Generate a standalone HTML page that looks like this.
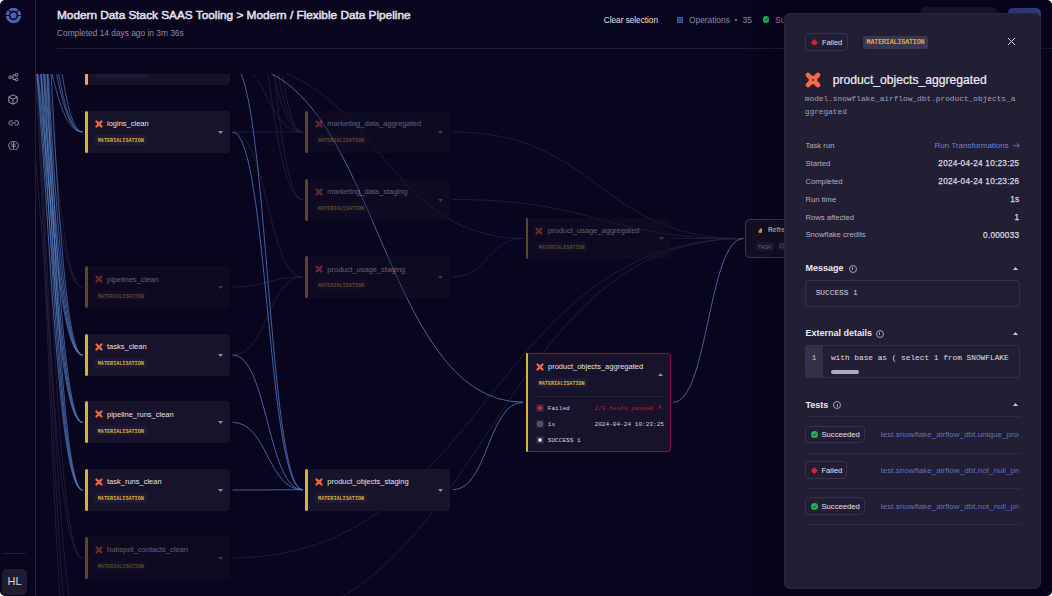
<!DOCTYPE html>
<html><head><meta charset="utf-8"><title>Pipeline</title>
<style>
html,body{margin:0;padding:0;background:#fff;width:1052px;height:596px;overflow:hidden}
#app{position:absolute;left:0;top:0;width:1052px;height:596px;background:#09051e;border-radius:5px;overflow:hidden;font-family:"Liberation Sans",Arial,sans-serif;color:#e6e4ee}
.abs{position:absolute}
#side{position:absolute;left:0;top:0;width:35px;height:596px;border-right:1px solid #221e33}
#graph{position:absolute;left:36px;top:74px;width:1016px;height:522px;overflow:hidden}
#gin{position:absolute;left:-36px;top:-74px;width:1052px;height:596px}
#edges{position:absolute;left:0;top:0}
.eb{fill:none;stroke:#5e91dc;stroke-width:.6}
.eb2{fill:none;stroke:#5a8ad8;stroke-width:.7}
.eg{fill:none;stroke:#29253f;stroke-width:.7}
.node{position:absolute;width:145px;height:41.7px;background:#17132a;border-radius:4px;box-sizing:border-box}
.node:before{content:"";position:absolute;left:0;top:0;bottom:0;width:2.5px;background:#ddb03b;border-radius:2px}
.node.faded{opacity:.38}
.node .ic{position:absolute;left:9.7px;top:9px}
.node.top .bdg{color:transparent}
.node .nm{position:absolute;left:22px;top:8.4px;font-size:7.5px;line-height:9px;color:#e4e2ec;white-space:nowrap}
.node .bdg{position:absolute;left:10px;top:24.3px;width:51.6px;height:9.7px;background:#1f1a33;border-radius:2px;font-family:"Liberation Mono",monospace;font-size:5.12px;line-height:13.4px;color:#ddb03b;text-align:center;font-weight:bold}
.node .cr{position:absolute;left:133px;top:19.5px}
#panel{position:absolute;left:784px;top:12.5px;width:256.5px;height:576.5px;background:#221e34;border-radius:6px;box-sizing:border-box;border:1px solid #29253d;box-shadow:0 0 28px 6px rgba(0,0,0,.3);overflow:hidden}

.t{position:absolute;white-space:nowrap}
.lbl{position:absolute;left:805.4px;font-size:7.7px;color:#b3afc2;white-space:nowrap}
.val{position:absolute;right:32.7px;font-size:8.2px;letter-spacing:.26px;-webkit-text-stroke:.25px #dcd9e4;color:#dcd9e4;white-space:nowrap;text-align:right}
.sec{position:absolute;left:805.4px;font-size:9px;font-weight:bold;color:#eceaf2;white-space:nowrap}
.info{position:absolute;width:6px;height:6px;border:1px solid #a7a3b6;border-radius:50%}
.info:after{content:"";position:absolute;left:2.5px;top:1.5px;width:1px;height:3px;background:#a7a3b6}
.up{position:absolute;left:1012.5px}
.sbadge{position:absolute;left:805.4px;height:17.5px;box-sizing:border-box;border:1px solid #38334d;border-radius:4px;font-size:7.7px;color:#e4e2ec}
.sbadge span{position:absolute;left:15px;top:3.5px;white-space:nowrap}
.gchk{position:absolute;left:4.8px;top:4.5px;width:7px;height:7px;border-radius:50%;background:#22b35a}
.rdia{position:absolute;left:5.2px;top:5.9px;width:4.7px;height:4.7px;background:#e3193d;transform:rotate(45deg);border-radius:1px}
.sep{position:absolute;left:805.4px;width:214.4px;height:1px;background:#2f2a44}
.lnk{position:absolute;left:880.5px;font-size:8.1px;color:#5c72c4;white-space:nowrap;width:138.6px;overflow:hidden}
</style></head><body><div id="app">
<div id="side"></div><svg class="abs" style="left:4.9px;top:6.699999999999999px" width="17" height="17" viewBox="-8.5 -8.5 17 17"><circle r="6.2" fill="none" stroke="#4d60b2" stroke-width="3.1"/><circle r="3.1" fill="#4d60b2"/><g stroke="#09051e" stroke-width="1.1"><line x1="-8.5" y1="0" x2="-4" y2="0"/><line x1="4" y1="0" x2="8.5" y2="0"/><line x1="-3" y1="-3.4" x2="-6.5" y2="-7.5"/><line x1="3" y1="-3.4" x2="6.5" y2="-7.5"/></g></svg><svg class="abs" style="left:7.5px;top:72.5px" width="11" height="9" viewBox="0 0 11 9" fill="none" stroke="#a9a5b8" stroke-width="0.85"><circle cx="2" cy="4.2" r="1.3"/><path d="M3.3 4.2 H5 M5 2 V6.5 M5 2 H7.4 M5 6.5 H7.4"/><rect x="7.4" y="0.8" width="2.4" height="2.4" rx="0.3"/><rect x="7.4" y="5.3" width="2.4" height="2.4" rx="0.3"/></svg><svg class="abs" style="left:8.4px;top:94.4px" width="10" height="11" viewBox="0 0 10 11" fill="none" stroke="#a9a5b8" stroke-width="0.9" stroke-linejoin="round"><path d="M5 0.8 L9.2 3 V8 L5 10.2 L0.8 8 V3 Z M0.8 3 L5 5.3 L9.2 3 M5 5.3 V10.2"/></svg><svg class="abs" style="left:7.6px;top:119.6px" width="11.5" height="6" viewBox="0 0 11.5 6" fill="none" stroke="#a9a5b8" stroke-width="0.85" stroke-linecap="round"><path d="M4.3 0.8 H3 A2.1 2.1 0 0 0 3 5 H4.3 M7.2 0.8 H8.5 A2.1 2.1 0 0 1 8.5 5 H7.2 M4 2.9 H7.5"/></svg><svg class="abs" style="left:7.6px;top:140.9px" width="11" height="9.5" viewBox="0 0 11 9.5" fill="none" stroke="#a9a5b8" stroke-width="0.85" stroke-linejoin="round"><path d="M3.2 0.9 Q5.5 0.1 7.8 0.9 Q9.6 1.6 10.2 3.6 Q10.5 4.75 10.2 5.9 Q9.6 7.9 7.8 8.6 Q5.5 9.4 3.2 8.6 Q1.4 7.9 0.8 5.9 Q0.5 4.75 0.8 3.6 Q1.4 1.6 3.2 0.9 Z"/><path d="M5.5 1.2 V8.3 M2.8 5.1 H8.2"/><path d="M3.3 3.2 Q4.2 2.4 4.6 3.6 M7.7 3.2 Q6.8 2.4 6.4 3.6" stroke-width="0.7"/></svg><div class="abs" style="left:2px;top:553px;width:23.5px;height:1px;background:#221e33"></div><div class="abs" style="left:2px;top:569.4px;width:25.3px;height:25.3px;border-radius:5px;background:#201c30;font-size:11px;line-height:25.3px;text-align:center;color:#d6d3e2">HL</div><div class="t" style="left:603.8px;top:15.6px;font-size:8.2px;color:#d6d3de;-webkit-text-stroke:.1px #d6d3de">Clear selection</div><svg class="abs" style="left:676.9px;top:16.9px" width="6" height="6" viewBox="0 0 6 6"><rect width="6" height="6" fill="#3b4ea5"/><path d="M1.2 1.2 H2.6 V2.6 H1.2 Z M3.4 1.2 H4.8 V2.6 H3.4 Z M1.2 3.4 H2.6 V4.8 H1.2 Z M3.4 3.4 H4.8 V4.8 H3.4 Z" fill="#2a3572"/></svg><div class="t" style="left:689px;top:15px;font-size:8.35px;color:#8f8ba2">Operations</div><div class="abs" style="left:734.8px;top:18.6px;width:2px;height:2px;border-radius:1px;background:#8f8ba2"></div><div class="t" style="left:742.6px;top:15px;font-size:8.35px;color:#8f8ba2">35</div><div class="abs" style="left:762.7px;top:16.4px;width:6.6px;height:6.6px;border-radius:50%;background:#22b35a"><svg width="6.6" height="6.6" viewBox="0 0 7 7" style="position:absolute;left:0;top:0"><path d="M2 3.6 L3.1 4.7 L5.1 2.5" stroke="#0b2a16" stroke-width="0.9" fill="none"/></svg></div><div class="t" style="left:775.1px;top:15px;font-size:8.35px;color:#8f8ba2">Succeeded</div><div class="abs" style="left:920.2px;top:6.9px;width:77px;height:22px;border-radius:5px;background:#1c1830"></div><div class="abs" style="left:1007.7px;top:7.9px;width:33px;height:22px;border-radius:5px;background:#34458c"></div>
<div class="abs" style="left:57px;top:7.8px;font-size:11.8px;white-space:nowrap;color:#e4e2ec;-webkit-text-stroke:.5px #e4e2ec">Modern Data Stack SAAS Tooling &gt; Modern / Flexible Data Pipeline</div>
<div class="abs" style="left:57px;top:28px;font-size:8.35px;white-space:nowrap;color:#8f8ba0">Completed 14 days ago in 3m 36s</div>
<div class="abs" style="left:57px;top:48px;width:995px;height:1px;background:#1f1b30"></div>
<div id="graph"><div id="gin">
<svg id="edges" width="1052" height="596" viewBox="0 0 1052 596"><path d="M12.2,-60.0 C47.3,-60.0 47.3,287.0 82.5,287.0" class="eg"/><path d="M12.2,-180.0 C47.3,-180.0 47.3,287.0 82.5,287.0" class="eg"/><path d="M12.2,-120.0 C47.3,-120.0 47.3,558.0 82.5,558.0" class="eg"/><path d="M12.2,60.0 C47.3,60.0 47.3,558.0 82.5,558.0" class="eg"/><path d="M12.2,-100.0 C47.3,-100.0 47.3,640.0 82.5,640.0" class="eg"/><path d="M12.2,-100.0 C47.3,-100.0 47.3,700.0 82.5,700.0" class="eg"/><path d="M12.2,-100.0 C47.3,-100.0 47.3,760.0 82.5,760.0" class="eg"/><path d="M232.5,132.0 C267.6,132.0 267.6,132.0 302.8,132.0" class="eg"/><path d="M232.5,64.5 C267.6,64.5 267.6,132.0 302.8,132.0" class="eg"/><path d="M232.5,-40.0 C267.6,-40.0 267.6,132.0 302.8,132.0" class="eg"/><path d="M232.5,-120.0 C267.6,-120.0 267.6,132.0 302.8,132.0" class="eg"/><path d="M232.5,-260.0 C267.6,-260.0 267.6,132.0 302.8,132.0" class="eg"/><path d="M232.5,-60.0 C267.6,-60.0 267.6,199.5 302.8,199.5" class="eg"/><path d="M232.5,-200.0 C267.6,-200.0 267.6,199.5 302.8,199.5" class="eg"/><path d="M232.5,132.0 C267.6,132.0 267.6,277.0 302.8,277.0" class="eg"/><path d="M232.5,287.0 C267.6,287.0 267.6,277.0 302.8,277.0" class="eg"/><path d="M232.5,355.0 C267.6,355.0 267.6,277.0 302.8,277.0" class="eg"/><path d="M452.8,277.0 C488.0,277.0 488.0,238.4 523.1,238.4" class="eg"/><path d="M452.8,132.0 C598.1,132.0 598.1,238.6 743.4,238.6" class="eg"/><path d="M452.8,199.5 C598.1,199.5 598.1,238.6 743.4,238.6" class="eg"/><path d="M232.5,64.5 C377.8,64.5 377.8,238.4 523.1,238.4" class="eg"/><path d="M232.5,558.0 C488.0,558.0 488.0,238.6 743.4,238.6" class="eg"/><path d="M232.5,626.0 C488.0,626.0 488.0,238.6 743.4,238.6" class="eg"/><path d="M673.1,238.4 C708.2,238.4 708.2,238.6 743.4,238.6" class="eg"/><path d="M12.2,-26.0 C47.3,-26.0 47.3,132.0 82.5,132.0" class="eb"/><path d="M12.2,-96.0 C47.3,-96.0 47.3,132.0 82.5,132.0" class="eb"/><path d="M12.2,-143.0 C47.3,-143.0 47.3,132.0 82.5,132.0" class="eb"/><path d="M12.2,-263.0 C47.3,-263.0 47.3,132.0 82.5,132.0" class="eb"/><path d="M12.2,-20.0 C47.3,-20.0 47.3,355.0 82.5,355.0" class="eb"/><path d="M12.2,-70.0 C47.3,-70.0 47.3,355.0 82.5,355.0" class="eb"/><path d="M12.2,-140.0 C47.3,-140.0 47.3,355.0 82.5,355.0" class="eb"/><path d="M12.2,-230.0 C47.3,-230.0 47.3,355.0 82.5,355.0" class="eb"/><path d="M12.2,-360.0 C47.3,-360.0 47.3,355.0 82.5,355.0" class="eb"/><path d="M12.2,-35.0 C47.3,-35.0 47.3,422.3 82.5,422.3" class="eb"/><path d="M12.2,-95.0 C47.3,-95.0 47.3,422.3 82.5,422.3" class="eb"/><path d="M12.2,-170.0 C47.3,-170.0 47.3,422.3 82.5,422.3" class="eb"/><path d="M12.2,-280.0 C47.3,-280.0 47.3,422.3 82.5,422.3" class="eb"/><path d="M12.2,-50.0 C47.3,-50.0 47.3,490.0 82.5,490.0" class="eb"/><path d="M12.2,-120.0 C47.3,-120.0 47.3,490.0 82.5,490.0" class="eb"/><path d="M12.2,-200.0 C47.3,-200.0 47.3,490.0 82.5,490.0" class="eb"/><path d="M12.2,-320.0 C47.3,-320.0 47.3,490.0 82.5,490.0" class="eb"/><path d="M232.5,64.5 C267.6,64.5 267.6,489.8 302.8,489.8" class="eb2"/><path d="M232.5,132.0 C267.6,132.0 267.6,489.8 302.8,489.8" class="eb2"/><path d="M232.5,355.0 C267.6,355.0 267.6,489.8 302.8,489.8" class="eb2"/><path d="M232.5,422.3 C267.6,422.3 267.6,489.8 302.8,489.8" class="eb2"/><path d="M232.5,490.0 C267.6,490.0 267.6,489.8 302.8,489.8" class="eb2"/><path d="M452.8,489.8 C488.0,489.8 488.0,402.2 523.1,402.2" class="eb2"/><path d="M232.5,64.5 C377.8,64.5 377.8,402.2 523.1,402.2" class="eb2"/><path d="M673.1,402.2 C708.2,402.2 708.2,238.6 743.4,238.6" class="eb2"/></svg>
<div class="node top" style="left:85px;top:43.8px"><div class="ic"><svg width="8" height="8" viewBox="0 0 16 16" style="display:block"><g stroke="#f86946" stroke-width="4.4" stroke-linecap="round"><line x1="3" y1="3" x2="13" y2="13"/><line x1="13" y1="3" x2="3" y2="13"/></g><circle cx="8" cy="8" r="3.6" fill="#f86946"/><circle cx="8" cy="8" r="0.9" fill="#17132a"/></svg></div><div class="nm"></div><div class="bdg">MATERIALISATION</div><div class="cr"><svg width="5" height="3" viewBox="0 0 5 3" style="display:block"><path d="M0 0 L5 0 L2.5 3 Z" fill="#8f8ca0"/></svg></div></div><div class="node" style="left:85px;top:111px"><div class="ic"><svg width="8" height="8" viewBox="0 0 16 16" style="display:block"><g stroke="#f86946" stroke-width="4.4" stroke-linecap="round"><line x1="3" y1="3" x2="13" y2="13"/><line x1="13" y1="3" x2="3" y2="13"/></g><circle cx="8" cy="8" r="3.6" fill="#f86946"/><circle cx="8" cy="8" r="0.9" fill="#17132a"/></svg></div><div class="nm">logins_clean</div><div class="bdg">MATERIALISATION</div><div class="cr"><svg width="5" height="3" viewBox="0 0 5 3" style="display:block"><path d="M0 0 L5 0 L2.5 3 Z" fill="#8f8ca0"/></svg></div></div><div class="node faded" style="left:85px;top:266.3px"><div class="ic"><svg width="8" height="8" viewBox="0 0 16 16" style="display:block"><g stroke="#f86946" stroke-width="4.4" stroke-linecap="round"><line x1="3" y1="3" x2="13" y2="13"/><line x1="13" y1="3" x2="3" y2="13"/></g><circle cx="8" cy="8" r="3.6" fill="#f86946"/><circle cx="8" cy="8" r="0.9" fill="#17132a"/></svg></div><div class="nm">pipelines_clean</div><div class="bdg">MATERIALISATION</div><div class="cr"><svg width="5" height="3" viewBox="0 0 5 3" style="display:block"><path d="M0 0 L5 0 L2.5 3 Z" fill="#8f8ca0"/></svg></div></div><div class="node" style="left:85px;top:334px"><div class="ic"><svg width="8" height="8" viewBox="0 0 16 16" style="display:block"><g stroke="#f86946" stroke-width="4.4" stroke-linecap="round"><line x1="3" y1="3" x2="13" y2="13"/><line x1="13" y1="3" x2="3" y2="13"/></g><circle cx="8" cy="8" r="3.6" fill="#f86946"/><circle cx="8" cy="8" r="0.9" fill="#17132a"/></svg></div><div class="nm">tasks_clean</div><div class="bdg">MATERIALISATION</div><div class="cr"><svg width="5" height="3" viewBox="0 0 5 3" style="display:block"><path d="M0 0 L5 0 L2.5 3 Z" fill="#8f8ca0"/></svg></div></div><div class="node" style="left:85px;top:401.3px"><div class="ic"><svg width="8" height="8" viewBox="0 0 16 16" style="display:block"><g stroke="#f86946" stroke-width="4.4" stroke-linecap="round"><line x1="3" y1="3" x2="13" y2="13"/><line x1="13" y1="3" x2="3" y2="13"/></g><circle cx="8" cy="8" r="3.6" fill="#f86946"/><circle cx="8" cy="8" r="0.9" fill="#17132a"/></svg></div><div class="nm">pipeline_runs_clean</div><div class="bdg">MATERIALISATION</div><div class="cr"><svg width="5" height="3" viewBox="0 0 5 3" style="display:block"><path d="M0 0 L5 0 L2.5 3 Z" fill="#8f8ca0"/></svg></div></div><div class="node" style="left:85px;top:469px"><div class="ic"><svg width="8" height="8" viewBox="0 0 16 16" style="display:block"><g stroke="#f86946" stroke-width="4.4" stroke-linecap="round"><line x1="3" y1="3" x2="13" y2="13"/><line x1="13" y1="3" x2="3" y2="13"/></g><circle cx="8" cy="8" r="3.6" fill="#f86946"/><circle cx="8" cy="8" r="0.9" fill="#17132a"/></svg></div><div class="nm">task_runs_clean</div><div class="bdg">MATERIALISATION</div><div class="cr"><svg width="5" height="3" viewBox="0 0 5 3" style="display:block"><path d="M0 0 L5 0 L2.5 3 Z" fill="#8f8ca0"/></svg></div></div><div class="node faded" style="left:85px;top:537px"><div class="ic"><svg width="8" height="8" viewBox="0 0 16 16" style="display:block"><g stroke="#f86946" stroke-width="4.4" stroke-linecap="round"><line x1="3" y1="3" x2="13" y2="13"/><line x1="13" y1="3" x2="3" y2="13"/></g><circle cx="8" cy="8" r="3.6" fill="#f86946"/><circle cx="8" cy="8" r="0.9" fill="#17132a"/></svg></div><div class="nm">hubspot_contacts_clean</div><div class="bdg">MATERIALISATION</div><div class="cr"><svg width="5" height="3" viewBox="0 0 5 3" style="display:block"><path d="M0 0 L5 0 L2.5 3 Z" fill="#8f8ca0"/></svg></div></div><div class="node faded" style="left:305.3px;top:111px"><div class="ic"><svg width="8" height="8" viewBox="0 0 16 16" style="display:block"><g stroke="#f86946" stroke-width="4.4" stroke-linecap="round"><line x1="3" y1="3" x2="13" y2="13"/><line x1="13" y1="3" x2="3" y2="13"/></g><circle cx="8" cy="8" r="3.6" fill="#f86946"/><circle cx="8" cy="8" r="0.9" fill="#17132a"/></svg></div><div class="nm">marketing_data_aggregated</div><div class="bdg">MATERIALISATION</div><div class="cr"><svg width="5" height="3" viewBox="0 0 5 3" style="display:block"><path d="M0 0 L5 0 L2.5 3 Z" fill="#8f8ca0"/></svg></div></div><div class="node faded" style="left:305.3px;top:179px"><div class="ic"><svg width="8" height="8" viewBox="0 0 16 16" style="display:block"><g stroke="#f86946" stroke-width="4.4" stroke-linecap="round"><line x1="3" y1="3" x2="13" y2="13"/><line x1="13" y1="3" x2="3" y2="13"/></g><circle cx="8" cy="8" r="3.6" fill="#f86946"/><circle cx="8" cy="8" r="0.9" fill="#17132a"/></svg></div><div class="nm">marketing_data_staging</div><div class="bdg">MATERIALISATION</div><div class="cr"><svg width="5" height="3" viewBox="0 0 5 3" style="display:block"><path d="M0 0 L5 0 L2.5 3 Z" fill="#8f8ca0"/></svg></div></div><div class="node faded" style="left:305.3px;top:256.2px"><div class="ic"><svg width="8" height="8" viewBox="0 0 16 16" style="display:block"><g stroke="#f86946" stroke-width="4.4" stroke-linecap="round"><line x1="3" y1="3" x2="13" y2="13"/><line x1="13" y1="3" x2="3" y2="13"/></g><circle cx="8" cy="8" r="3.6" fill="#f86946"/><circle cx="8" cy="8" r="0.9" fill="#17132a"/></svg></div><div class="nm">product_usage_staging</div><div class="bdg">MATERIALISATION</div><div class="cr"><svg width="5" height="3" viewBox="0 0 5 3" style="display:block"><path d="M0 0 L5 0 L2.5 3 Z" fill="#8f8ca0"/></svg></div></div><div class="node" style="left:305.3px;top:469px"><div class="ic"><svg width="8" height="8" viewBox="0 0 16 16" style="display:block"><g stroke="#f86946" stroke-width="4.4" stroke-linecap="round"><line x1="3" y1="3" x2="13" y2="13"/><line x1="13" y1="3" x2="3" y2="13"/></g><circle cx="8" cy="8" r="3.6" fill="#f86946"/><circle cx="8" cy="8" r="0.9" fill="#17132a"/></svg></div><div class="nm">product_objects_staging</div><div class="bdg">MATERIALISATION</div><div class="cr"><svg width="5" height="3" viewBox="0 0 5 3" style="display:block"><path d="M0 0 L5 0 L2.5 3 Z" fill="#8f8ca0"/></svg></div></div><div class="node faded" style="left:525.8px;top:217.6px"><div class="ic"><svg width="8" height="8" viewBox="0 0 16 16" style="display:block"><g stroke="#f86946" stroke-width="4.4" stroke-linecap="round"><line x1="3" y1="3" x2="13" y2="13"/><line x1="13" y1="3" x2="3" y2="13"/></g><circle cx="8" cy="8" r="3.6" fill="#f86946"/><circle cx="8" cy="8" r="0.9" fill="#17132a"/></svg></div><div class="nm">product_usage_aggregated</div><div class="bdg">MATERIALISATION</div><div class="cr"><svg width="5" height="3" viewBox="0 0 5 3" style="display:block"><path d="M0 0 L5 0 L2.5 3 Z" fill="#8f8ca0"/></svg></div></div><div class="abs" style="left:525.8px;top:353px;width:145px;height:99px;box-sizing:border-box;background:#17132a;border:1px solid #8a1238;border-left:none;border-radius:4px;box-shadow:0 0 2px rgba(140,15,50,.35)"></div><div class="abs" style="left:525.8px;top:353px;width:2.6px;height:99px;background:#ddb03b;border-radius:2px"></div><div class="abs" style="left:535.5px;top:362.6px"><svg width="8" height="8" viewBox="0 0 16 16" style="display:block"><g stroke="#f86946" stroke-width="4.4" stroke-linecap="round"><line x1="3" y1="3" x2="13" y2="13"/><line x1="13" y1="3" x2="3" y2="13"/></g><circle cx="8" cy="8" r="3.6" fill="#f86946"/><circle cx="8" cy="8" r="0.9" fill="#17132a"/></svg></div><div class="t" style="left:548px;top:361.8px;font-size:7.5px;color:#e4e2ec">product_objects_aggregated</div><div class="abs" style="left:536.1px;top:377.7px;width:51.2px;height:10px;background:#1f1a33;border-radius:2px;font-family:'Liberation Mono',monospace;font-size:5.12px;line-height:13.6px;color:#ddb03b;text-align:center;font-weight:bold">MATERIALISATION</div><div class="abs" style="left:658.1px;top:373.1px"><svg width="5" height="3" viewBox="0 0 5 3" style="display:block"><path d="M0 3 L5 3 L2.5 0 Z" fill="#8f8ca0"/></svg></div><div class="abs" style="left:535.2px;top:396px;width:128.5px;height:1px;background:#26213a"></div><div class="abs" style="left:536px;top:403.8px;width:8px;height:8px;background:#2c2740;border-radius:1px"></div><div class="abs" style="left:536px;top:419.8px;width:8px;height:8px;background:#2c2740;border-radius:1px"></div><div class="abs" style="left:536px;top:435.9px;width:8px;height:8px;background:#2c2740;border-radius:1px"></div><div class="abs" style="left:538.2px;top:406px;width:3.6px;height:3.6px;background:#e3193d;transform:rotate(45deg)"></div><svg class="abs" style="left:537px;top:420.8px" width="6" height="6" viewBox="0 0 6 6"><circle cx="3" cy="3" r="2.2" fill="none" stroke="#a3a0b0" stroke-width="0.7"/><path d="M3 1.8 V3 L3.9 3.6" stroke="#a3a0b0" stroke-width="0.6" fill="none"/></svg><div class="abs" style="left:538.1px;top:437.8px;width:4.2px;height:4.2px;border-radius:50%;background:#d8d6e0"></div><div class="t" style="left:547.8px;top:404.7px;font-family:'Liberation Mono',monospace;font-size:6.1px;color:#d6d3df;">Failed</div><div class="t" style="left:594.5px;top:404.7px;font-family:'Liberation Mono',monospace;font-size:6.1px;color:#c8183a;">2/3 tests passed</div><svg class="abs" style="left:657.3px;top:405px" width="5" height="5" viewBox="0 0 5 5"><path d="M0.8 4.2 L4 1 M1.6 1 H4 V3.4" stroke="#c8183a" stroke-width="0.8" fill="none"/></svg><div class="t" style="left:547.8px;top:420.7px;font-family:'Liberation Mono',monospace;font-size:6.1px;color:#d6d3df;">1s</div><div class="t" style="left:594.5px;top:420.7px;font-family:'Liberation Mono',monospace;font-size:6.1px;color:#d6d3df;">2024-04-24 10:23:25</div><div class="t" style="left:547.8px;top:436.8px;font-family:'Liberation Mono',monospace;font-size:6.1px;color:#d6d3df;">SUCCESS 1</div><div class="abs" style="left:745.3px;top:219.2px;width:120px;height:38.8px;box-sizing:border-box;background:#140f25;border:1px solid #3a3550;border-radius:5px"></div><svg class="abs" style="left:757.8px;top:227.8px" width="4.5" height="5" viewBox="0 0 4.5 5"><path d="M0.2 4.8 Q0.4 2.2 2.6 0.6 Q3.6 0 4.2 0.3 L4.2 4.8 Z" fill="#c99a2e"/></svg><div class="t" style="left:767.9px;top:226.2px;font-size:6.7px;line-height:7px;font-weight:bold;color:#aeabba">Refresh</div><div class="abs" style="left:756.2px;top:241.9px;width:17.6px;height:8.7px;background:#1d1830;border-radius:1.5px;font-size:5.6px;line-height:10px;text-align:center;color:#67637a">TASK</div><div class="abs" style="left:778px;top:241.9px;width:20px;height:8.7px;background:#1d1830;border-radius:1.5px"></div><svg class="abs" style="left:779.3px;top:243.3px" width="6" height="6" viewBox="0 0 6 6"><circle cx="3" cy="3" r="2.2" fill="none" stroke="#7d798f" stroke-width="0.7"/></svg>
</div></div>
<div id="panel"><div id="pin" style="position:absolute;left:-785px;top:-13.5px;width:1052px;height:596px"><div class="abs" style="left:805px;top:33px;width:42.5px;height:18px;box-sizing:border-box;border:1px solid #38334d;border-radius:4px"><div class="rdia" style="left:5.8px;top:6.1px;width:4.8px;height:4.8px"></div><div class="t" style="left:16px;top:3.8px;font-size:7.4px;color:#e4e2ec">Failed</div></div><div class="abs" style="left:863px;top:36px;width:65px;height:13px;background:#3a3551;border-radius:2.5px;font-family:'Liberation Mono',monospace;font-size:6.6px;letter-spacing:-.1px;line-height:14.8px;text-align:center;color:#efbf3e;-webkit-text-stroke:.15px #efbf3e">MATERIALISATION</div><svg class="abs" style="left:1007.3px;top:37.1px" width="9" height="9" viewBox="0 0 9 9"><path d="M0.9 0.9 L8.1 8.1 M8.1 0.9 L0.9 8.1" stroke="#d4d1dc" stroke-width="1"/></svg><div class="abs" style="left:804.8px;top:71.6px"><svg width="16" height="16" viewBox="0 0 16 16" style="display:block"><g stroke="#f86946" stroke-width="4.6" stroke-linecap="round"><line x1="3" y1="3" x2="13" y2="13"/><line x1="13" y1="3" x2="3" y2="13"/></g><circle cx="8" cy="8" r="4.3" fill="#f86946"/><circle cx="8" cy="8" r="0.9" fill="#221e34"/></svg></div><div class="t" style="left:832.8px;top:73.3px;font-size:12.15px;color:#f0eef5;-webkit-text-stroke:.2px #f0eef5">product_objects_aggregated</div><div class="t" style="left:804.8px;top:93.2px;font-family:'Liberation Mono',monospace;font-size:7.8px;line-height:12.7px;color:#a5a1b5">model.snowflake_airflow_dbt.product_objects_a<br>ggregated</div><div class="lbl" style="top:140.7px">Task run</div><div class="lbl" style="top:158.9px">Started</div><div class="val" style="top:159.2px">2024-04-24 10:23:25</div><div class="lbl" style="top:176.9px">Completed</div><div class="val" style="top:177.2px">2024-04-24 10:23:26</div><div class="lbl" style="top:194.5px">Run time</div><div class="val" style="top:195.3px">1s</div><div class="lbl" style="top:212.5px">Rows affected</div><div class="val" style="top:213.3px">1</div><div class="lbl" style="top:230.3px">Snowflake credits</div><div class="val" style="top:231.1px">0.000033</div><div class="t" style="left:934.5px;top:140.6px;font-size:8px;color:#6c83d6">Run Transformations</div><svg class="abs" style="left:1012.6px;top:143px" width="7" height="5.4" viewBox="0 0 7 5.4"><path d="M0.3 2.7 H6.2 M3.9 0.4 L6.2 2.7 L3.9 5" stroke="#6c83d6" stroke-width="0.85" fill="none"/></svg><div class="sec" style="top:263.4px">Message</div><div class="info" style="left:848.8px;top:264.8px"></div><div class="up" style="top:267px"><svg width="5" height="3" viewBox="0 0 5 3" style="display:block"><path d="M0 3 L5 3 L2.5 0 Z" fill="#cfccd8"/></svg></div><div class="abs" style="left:805.4px;top:280.4px;width:214.4px;height:26.2px;box-sizing:border-box;border:1px solid #36314b;border-radius:3px"></div><div class="t" style="left:815.7px;top:289.2px;font-family:'Liberation Mono',monospace;font-size:7.8px;color:#d9d6e2">SUCCESS 1</div><div class="sec" style="top:328px">External details</div><div class="info" style="left:875.9px;top:329.6px"></div><div class="up" style="top:331.8px"><svg width="5" height="3" viewBox="0 0 5 3" style="display:block"><path d="M0 3 L5 3 L2.5 0 Z" fill="#cfccd8"/></svg></div><div class="abs" style="left:805.4px;top:345px;width:214.4px;height:32.6px;box-sizing:border-box;border:1px solid #36314b;border-radius:3px;overflow:hidden"><div class="abs" style="left:0;top:0;width:17px;height:100%;background:#363049"></div></div><div class="t" style="left:811.8px;top:354px;font-family:'Liberation Mono',monospace;font-size:7.8px;color:#c9c6d3">1</div><div class="t" style="left:830.9px;top:354px;font-family:'Liberation Mono',monospace;font-size:7.8px;color:#e0dde8">with base as ( select 1 from SNOWFLAKE</div><div class="abs" style="left:830.9px;top:369.5px;width:28.5px;height:4.2px;border-radius:2.1px;background:#aeabba"></div><div class="sec" style="top:399.8px">Tests</div><div class="info" style="left:833.3px;top:401px"></div><div class="up" style="top:403.2px"><svg width="5" height="3" viewBox="0 0 5 3" style="display:block"><path d="M0 3 L5 3 L2.5 0 Z" fill="#cfccd8"/></svg></div><div class="sep" style="top:415.8px"></div><div class="sbadge" style="top:425.6px;width:59.5px"><div class="gchk"><svg width="7" height="7" viewBox="0 0 7 7" style="position:absolute;left:0;top:0"><path d="M2 3.6 L3.1 4.7 L5.1 2.5" stroke="#0e2a18" stroke-width="0.9" fill="none"/></svg></div><span>Succeeded</span></div><div class="lnk" style="top:430.2px">test.snowflake_airflow_dbt.unique_product_objects_aggregated_id</div><div class="sep" style="top:452.5px"></div><div class="sbadge" style="top:461.3px;width:42.1px"><div class="rdia"></div><span>Failed</span></div><div class="lnk" style="top:465.9px">test.snowflake_airflow_dbt.not_null_product_objects_aggregated_id</div><div class="sep" style="top:488.2px"></div><div class="sbadge" style="top:497.4px;width:59.5px"><div class="gchk"><svg width="7" height="7" viewBox="0 0 7 7" style="position:absolute;left:0;top:0"><path d="M2 3.6 L3.1 4.7 L5.1 2.5" stroke="#0e2a18" stroke-width="0.9" fill="none"/></svg></div><span>Succeeded</span></div><div class="lnk" style="top:502.0px">test.snowflake_airflow_dbt.not_null_product_objects_aggregated_name</div><div class="sep" style="top:524.3px"></div></div></div>
</div></body></html>
